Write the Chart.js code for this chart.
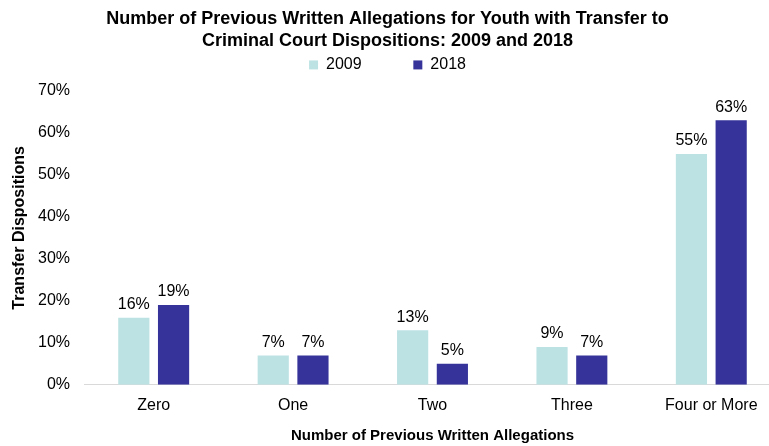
<!DOCTYPE html>
<html>
<head>
<meta charset="utf-8">
<script src="https://cdn.jsdelivr.net/npm/chart.js@4"></script>
<style>
  html, body { margin: 0; padding: 0; background: #fff; overflow: hidden; }
  /* the plot runs a little past the right edge of the window */
  #wrap { width: 781px; height: 446px; }
</style>
</head>
<body>
<div id="wrap"><canvas id="chart"></canvas></div>
<script>
const categories = ['Zero', 'One', 'Two', 'Three', 'Four or More'];
const values2009 = [16, 7, 13, 9, 55];
const values2018 = [19, 7, 5, 7, 63];
const yTicks = [0, 10, 20, 30, 40, 50, 60, 70];

const FONT = "'Liberation Sans', Arial, sans-serif";

// writes the percentage above each bar
const barLabels = {
    id: 'barLabels',
    afterDatasetsDraw(chart) {
        const ctx = chart.ctx;
        ctx.save();
        ctx.font = '16px ' + FONT;
        ctx.fillStyle = '#000';
        ctx.textAlign = 'center';
        ctx.textBaseline = 'middle';
        chart.data.datasets.forEach((ds, i) => {
            chart.getDatasetMeta(i).data.forEach((bar, j) => {
                ctx.fillText(ds.data[j] + '%', bar.x, bar.y - 13);
            });
        });
        ctx.restore();
    }
};

// rotated y axis title, sitting a bit above the middle of the plot
const yTitle = {
    id: 'yTitle',
    afterDraw(chart) {
        const ctx = chart.ctx;
        const area = chart.chartArea;
        ctx.save();
        ctx.translate(20, (area.top + area.bottom) / 2 - 10);
        ctx.rotate(-Math.PI / 2);
        ctx.font = 'bold 16px ' + FONT;
        ctx.fillStyle = '#000';
        ctx.textAlign = 'center';
        ctx.textBaseline = 'middle';
        ctx.fillText('Transfer Dispositions', 0, 0);
        ctx.restore();
    }
};

// extra room under the legend before the plot starts
const legendGap = {
    id: 'legendGap',
    afterInit(chart) {
        const legend = chart.legend;
        const fit = legend.fit;
        legend.fit = function () {
            fit.call(this);
            this.height += 8;
        };
    }
};

const ctx = document.getElementById('chart').getContext('2d');
const myChart = new Chart(ctx, {
    type: 'bar',
    data: {
        labels: categories,
        datasets: [
            {
                label: '2009',
                data: values2009,
                backgroundColor: '#bde2e4',
                borderWidth: 0,
                barPercentage: 0.785,
                categoryPercentage: 0.57
            },
            {
                label: '2018',
                data: values2018,
                backgroundColor: '#36349a',
                borderWidth: 0,
                barPercentage: 0.785,
                categoryPercentage: 0.57
            }
        ]
    },
    options: {
        responsive: true,
        maintainAspectRatio: false,
        animation: false,
        layout: { padding: { left: -6, right: 0, top: 0, bottom: 1 } },
        plugins: {
            title: {
                display: true,
                text: ['Number of Previous Written Allegations for Youth with Transfer to',
                       'Criminal Court Dispositions: 2009 and 2018'],
                font: { family: FONT, size: 18, weight: 'bold', lineHeight: 1.22 },
                color: '#000',
                padding: { top: 8, bottom: -20 }
            },
            legend: {
                position: 'top',
                labels: {
                    font: { family: FONT, size: 16 },
                    color: '#000',
                    boxWidth: 9,
                    boxHeight: 9,
                    padding: 25,
                    generateLabels(chart) {
                        const items = Chart.defaults.plugins.legend.labels.generateLabels(chart);
                        items[0].text = items[0].text + '      ';
                        return items;
                    }
                }
            },
            tooltip: { enabled: false }
        },
        scales: {
            x: {
                grid: { display: false, drawTicks: false },
                border: { color: '#d9d9d9' },
                ticks: { font: { family: FONT, size: 16 }, color: '#000', padding: 11 },
                title: {
                    display: true,
                    text: 'Number of Previous Written Allegations',
                    font: { family: FONT, size: 15, weight: 'bold' },
                    color: '#000',
                    padding: { top: 1, bottom: 0 }
                }
            },
            y: {
                min: 0,
                max: 70,
                afterBuildTicks(axis) {
                    axis.ticks = yTicks.map(v => ({ value: v }));
                },
                afterFit(axis) {
                    axis.width = 90;
                },
                grid: { display: false, drawTicks: false },
                border: { display: false },
                ticks: {
                    font: { family: FONT, size: 16 },
                    color: '#000',
                    padding: 14,
                    callback: v => v + '%'
                }
            }
        }
    },
    plugins: [barLabels, yTitle, legendGap]
});
</script>
</body>
</html>
